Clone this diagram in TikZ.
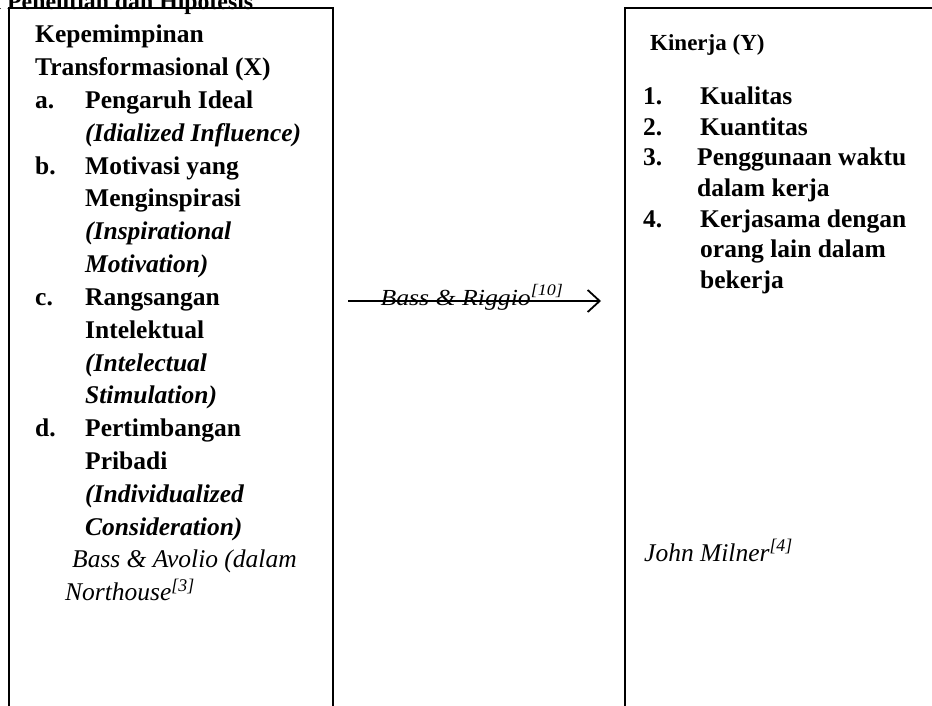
\documentclass[tikz,border=0pt]{standalone}
\usepackage{fontspec}
\setmainfont{Liberation Serif}
\usetikzlibrary{arrows.meta}
\begin{document}
\begin{tikzpicture}[x=1pt,y=-1pt,
  box/.style={draw,line width=1.8pt,inner sep=0pt,anchor=north west},
  bx/.style={anchor=base west,inner sep=0pt,font=\fontsize{25.5}{30}\selectfont\bfseries},
  bix/.style={anchor=base west,inner sep=0pt,font=\fontsize{25.5}{30}\selectfont\bfseries\itshape},
  ix/.style={anchor=base west,inner sep=0pt,font=\fontsize{25.5}{30}\selectfont\itshape},
  hx/.style={anchor=base west,inner sep=0pt,font=\fontsize{23}{28}\selectfont\bfseries}]
\useasboundingbox (0,0) rectangle (932,706);
\clip (0,0) rectangle (932,706);
\fill[white] (0,0) rectangle (932,706);
% boxes
\node[box,minimum width=324pt,minimum height=730pt] (boxX) at (8,7) {};
\node[box,minimum width=330pt,minimum height=730pt] (boxY) at (624,7) {};
% title (clipped)
\node[anchor=base west,inner sep=0pt,font=\fontsize{23.8}{28}\selectfont\bfseries] (title) at (7,10) {\llap{Kerangka\ }Penelitian dan Hipotesis};
% left box
\node[bx] (k1) at (35,43) {Kepemimpinan};
\node[bx] (k2) at (35,75.8) {Transformasional (X)};
\node[bx] (la) at (35,108.6) {a.};
\node[bx] (ta1) at (85,108.6) {Pengaruh Ideal};
\node[bix] (ta2) at (85,141.4) {(Idialized Influence)};
\node[bx] (lb) at (35,174.2) {b.};
\node[bx] (tb1) at (85,174.2) {Motivasi yang};
\node[bx] (tb2) at (85,207) {Menginspirasi};
\node[bix] (tb3) at (85,239.8) {(Inspirational};
\node[bix] (tb4) at (85,272.6) {Motivation)};
\node[bx] (lc) at (35,305.4) {c.};
\node[bx] (tc1) at (85,305.4) {Rangsangan};
\node[bx] (tc2) at (85,338.2) {Intelektual};
\node[bix] (tc3) at (85,371) {(Intelectual};
\node[bix] (tc4) at (85,403.8) {Stimulation)};
\node[bx] (ld) at (35,436.6) {d.};
\node[bx] (td1) at (85,436.6) {Pertimbangan};
\node[bx] (td2) at (85,469.4) {Pribadi};
\node[bix] (td3) at (85,502.2) {(Individualized};
\node[bix] (td4) at (85,535) {Consideration)};
\node[ix] (src1) at (72,567.8) {Bass \& Avolio (dalam};
\node[ix] (src2) at (65,600.6) {Northouse\textsuperscript{[3]}};
% right box
\node[hx] (ky) at (650,51) {Kinerja (Y)};
\node[bx] (l1) at (643,105) {1.};
\node[bx] (t1) at (700,105) {Kualitas};
\node[bx] (l2) at (643,135.5) {2.};
\node[bx] (t2) at (700,135.5) {Kuantitas};
\node[bx] (l3) at (643,166) {3.};
\node[bx] (t3a) at (697,166) {Penggunaan waktu};
\node[bx] (t3b) at (697,196.5) {dalam kerja};
\node[bx] (l4) at (643,227) {4.};
\node[bx] (t4a) at (700,227) {Kerjasama dengan};
\node[bx] (t4b) at (700,257.5) {orang lain dalam};
\node[bx] (t4c) at (700,288) {bekerja};
\node[ix] (src3) at (644,561) {John Milner\textsuperscript{[4]}};
% arrow
\coordinate (as) at (348,301);
\coordinate (ae) at (601,301);
\node[anchor=base,inner sep=0pt,font=\fontsize{23}{26}\selectfont\itshape] (rel) at (472,305) {\scalebox{1.12}[1]{Bass \& Riggio\textsuperscript{[10]}}};
\draw[line width=1.8pt,-{Straight Barb[length=12pt,width=22pt,line width=1.8pt]}] (as) -- (ae);
\end{tikzpicture}
\end{document}
